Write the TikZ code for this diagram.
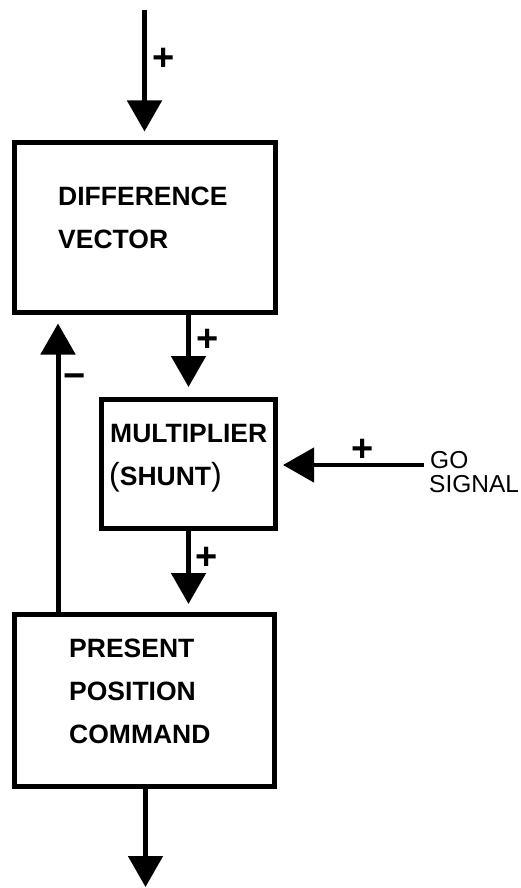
\documentclass[tikz,border=0pt]{standalone}
\usepackage{fontspec}
\setmainfont{Liberation Sans}
\usetikzlibrary{arrows.meta,calc}
\begin{document}
\begin{tikzpicture}[x=1pt,y=-1pt,
  box/.style={draw,line width=5pt,inner sep=0pt},
  arr/.style={line width=5pt,-{Triangle[width=34pt,length=31pt]}},
  lbl/.style={anchor=base west,inner sep=0pt,font=\fontsize{26.5}{30}\selectfont\bfseries},
  sig/.style={anchor=base west,inner sep=0pt,font=\fontsize{24.5}{28}\selectfont},
  sgn/.style={inner sep=0pt,font=\fontsize{38}{40}\selectfont\bfseries}]
\useasboundingbox (0,0) rectangle (521,888);

% blocks
\node[box,minimum width=261pt,minimum height=170pt] (dv) at (144.5,227) {};
\node[box,minimum width=174pt,minimum height=129pt] (mul) at (188.5,464) {};
\node[box,minimum width=260pt,minimum height=172pt] (ppc) at (144.5,700.5) {};

% block texts
\node[lbl] (dv1) at (58,205) {DIFFERENCE};
\node[lbl] (dv2) at (58,248) {VECTOR};
\node[lbl] (mu1) at (110,442) {MULTIPLIER};
\node[lbl] (mu2) at (109,485) {{\fontsize{32}{34}\selectfont\mdseries(}SHUNT{\fontsize{32}{34}\selectfont\mdseries)}};
\node[lbl] (pp1) at (69,657) {PRESENT};
\node[lbl] (pp2) at (69,700) {POSITION};
\node[lbl] (pp3) at (69,743) {COMMAND};

% external signal
\node[sig] (go1) at (430,468) {GO};
\node[sig] (go2) at (429,492) {SIGNAL};

% free ends
\coordinate (in) at (144.5,10);
\coordinate (out) at (145.5,887);
\coordinate (go) at (424,465);
\coordinate (fbx) at (58,0);

% connectors
\draw[arr] (in) -- ([yshift=8pt]dv.north);
\draw[arr] (dv.south -| mul) -- ($(mul.south |- mul.north)+(0,-10)$);
\draw[arr] (mul.south) -- ($(mul.south |- ppc.north)+(0,-8)$);
\draw[arr] (ppc.south -| out) -- (out);
\draw[arr] (ppc.north -| fbx) -- ($(dv.south -| fbx)+(0,9)$);
\draw[arr,line width=4.5pt] (go) -- ($(mul.east |- go)+(5,0)$);

% signs
\node[sgn] (p1) at (164,59) {+};
\node[sgn] (p2) at (208,340) {+};
\node[sgn] (p3) at (207,558) {+};
\node[sgn] (p4) at (363,450) {+};
\node[sgn] (m1) at (75,381) {−};
\end{tikzpicture}
\end{document}
